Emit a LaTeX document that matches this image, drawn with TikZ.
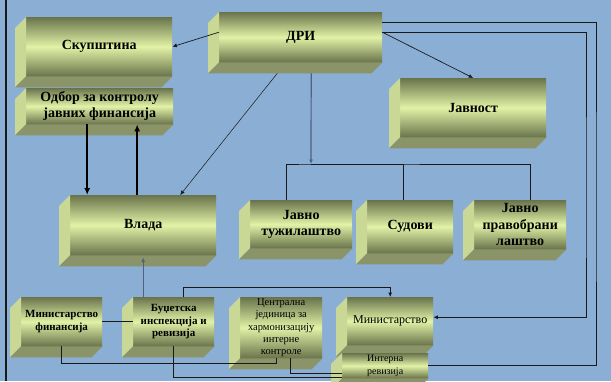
\documentclass[tikz,border=0pt]{standalone}
\usepackage{fontspec}
\setmainfont{Liberation Serif}
\usetikzlibrary{arrows.meta,calc}

\definecolor{bgblue}{RGB}{138,174,212}
\definecolor{oliveDark}{RGB}{106,116,76}
\definecolor{oliveLight}{RGB}{226,242,166}
\definecolor{sideFace}{RGB}{202,216,150}
\definecolor{baseFace}{RGB}{138,148,104}
\definecolor{slate}{RGB}{78,98,128}

\tikzset{
  front/.style={anchor=north west, inner sep=1pt, align=center,
    top color=oliveDark, bottom color=oliveDark, middle color=oliveLight},
  bigbold/.style={font=\fontsize{14}{16.5}\selectfont\bfseries},
  smallbold/.style={font=\fontsize{11}{12.5}\selectfont\bfseries},
  small/.style={font=\fontsize{10.5}{12.2}\selectfont},
  link/.style={draw=black!90, line width=0.7pt},
  tip/.style={link, -{Latex[length=4.5pt,width=4pt]}},
  heavy/.style={draw=black, line width=2.2pt, -{Latex[length=7pt,width=6pt]}},
  feed/.style={draw=slate, line width=1.2pt, -{Latex[length=4.5pt,width=4pt]}},
}

% side and bottom faces of a box
\newcommand{\extrude}[1]{%
  \fill[sideFace] (#1.north west) -- (#1.south west) -- ++(-11,11) -- ($(#1.north west)+(-11,11)$) -- cycle;
  \fill[baseFace] (#1.south west) -- (#1.south east) -- ++(-11,11) -- ($(#1.south west)+(-11,11)$) -- cycle;
}

\begin{document}
\begin{tikzpicture}[x=1pt,y=-1pt]
  \useasboundingbox (0,0) rectangle (611,381);
  \fill[bgblue] (0,0) rectangle (611,381);
  \draw[line width=2.5pt, color=black!90] (6,0) -- (6,381);

  \node (skup) at (26,17) [front,bigbold,minimum width=146pt,minimum height=59pt]{Скупштина};
  \extrude{skup}
  \node (odbor) at (26,88) [front,bigbold,minimum width=147pt,minimum height=36pt]{Одбор за контролу\\јавних финансија};
  \extrude{odbor}
  \node (dri) at (219,12) [front,bigbold,minimum width=163pt,minimum height=50pt]{ДРИ};
  \extrude{dri}
  \node (javn) at (400,78) [front,bigbold,minimum width=146pt,minimum height=59pt]{Јавност};
  \extrude{javn}
  \node (vlada) at (70,195) [front,bigbold,minimum width=146pt,minimum height=60pt]{Влада};
  \extrude{vlada}
  \node (tuz) at (250,200) [front,bigbold,minimum width=102pt,minimum height=48pt]{Јавно\\тужилаштво};
  \extrude{tuz}
  \node (sud) at (367,200) [front,bigbold,minimum width=86pt,minimum height=53pt]{Судови};
  \extrude{sud}
  \node (pravo) at (474,200) [front,bigbold,minimum width=92pt,minimum height=49pt]{Јавно\\правобрани\\лаштво};
  \extrude{pravo}

  \node (minfin) at (21,297) [front,smallbold,minimum width=81pt,minimum height=49pt]{Министарство\\финансија};
  \extrude{minfin}
  \node (buz) at (133,297) [front,smallbold,minimum width=81pt,minimum height=49pt]{Буџетска\\инспекција и\\ревизија};
  \extrude{buz}
  \node (central) at (240,297) [front,small,minimum width=82pt,minimum height=61pt]{Централна\\јединица за\\хармонизацију\\интерне\\контроле};
  \extrude{central}
  \node (min) at (347,297) [front,font=\fontsize{12}{14}\selectfont,minimum width=86pt,minimum height=48pt]{Министарство};
  \extrude{min}
  \node (intrev) at (342,353) [front,font=\fontsize{10}{13}\selectfont,minimum width=86pt,minimum height=25pt]{Интерна\\ревизија};
  \extrude{intrev}

  \coordinate (bus) at (311,164);
  \coordinate (outer) at (596,200);
  \coordinate (inner) at (586,200);

  \draw[tip] ([yshift=5pt]dri.west) -- (skup.east);
  \draw[tip] ([yshift=5pt]dri.east) -- (javn.north);
  \draw[tip,line width=0.5pt] ($(dri.south)+(-23.5,11)$) -- ([xshift=37pt]vlada.north);
  \draw[feed] ($(dri.south)+(10.5,11)$) -- (bus);
  \draw[link] ([xshift=-15pt]tuz.north) |- (bus) -| ([xshift=10pt]pravo.north);
  \draw[link] ([xshift=-7pt]sud.north) |- (bus);

  \draw[heavy] ([xshift=-12.5pt]odbor.south) -- ([xshift=-12.5pt]odbor.south |- vlada.north);
  \draw[heavy] ([xshift=37.5pt]odbor.south |- vlada.north) -- ([xshift=37.5pt]odbor.south);

  \draw[feed] (vlada.south |- buz.north) -- ([yshift=-2pt]vlada.south);
  \draw[link] (minfin.east) -- (buz.west);
  \draw[link] (minfin.south) -- ++(0,17) -| ([xshift=-5pt]central.south);
  \draw[link] (buz.south) |- ([yshift=-12pt]intrev.west);
  \draw[link] ([xshift=9pt]central.south) |- ([yshift=-7.5pt]intrev.west);
  \draw[tip] ([xshift=10pt]buz.north) -- ++(0,-10) -| (min.north);

  \draw[link] ([yshift=15pt]dri.east) -| (outer) |- (intrev.east);
  \draw[tip] ([yshift=5pt]dri.east) -| (inner) |- ([yshift=4pt]min.east);

\end{tikzpicture}
\end{document}
